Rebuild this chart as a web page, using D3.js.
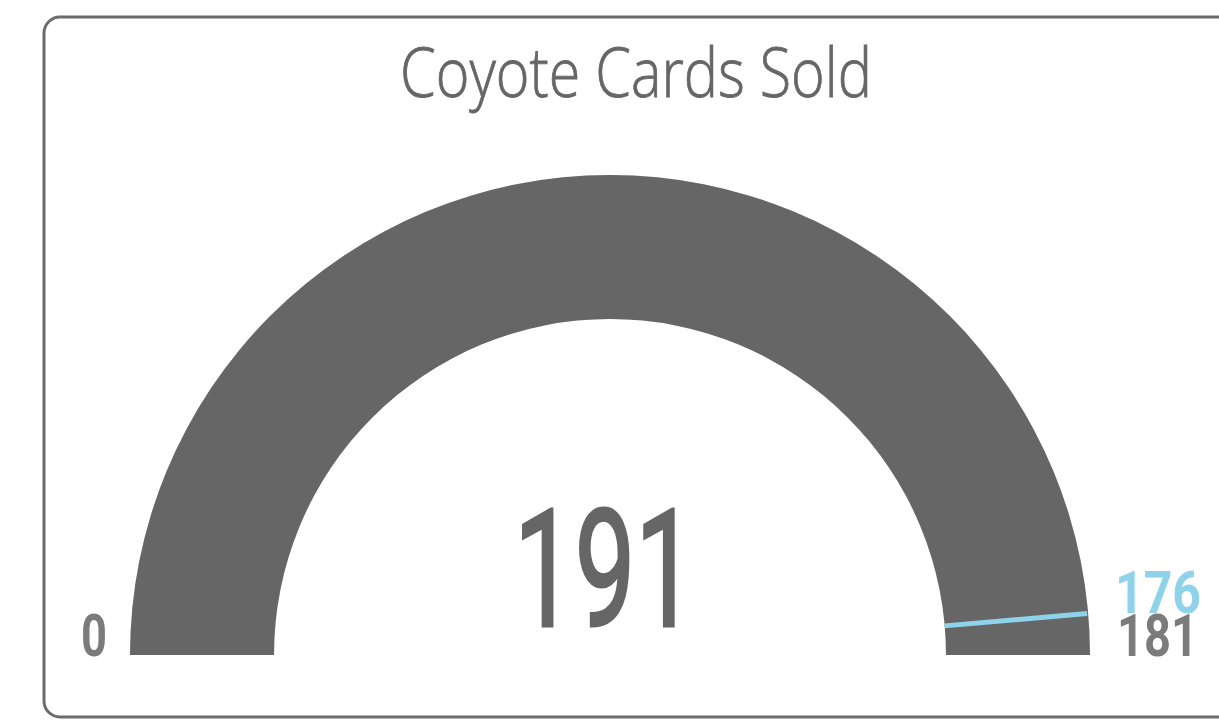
<!DOCTYPE html>
<html><head><meta charset="utf-8">
<script src="https://cdn.jsdelivr.net/npm/d3@7"></script>
<style>html,body{margin:0;padding:0;background:#fff;overflow:hidden}</style>
</head><body>
<svg id="c" width="1219" height="721"></svg>
<script>
const title = "Coyote Cards Sold";
const minValue = 0;
const maxValue = 181;
const value = 191;
const target = 176;

const svg = d3.select("#c");
svg.append("rect").attr("x", 44).attr("y", 17).attr("width", 1220).attr("height", 700)
  .attr("rx", 16).attr("ry", 16).attr("fill", "#fff").attr("stroke", "#6b6b6b").attr("stroke-width", 3);

svg.append("text").attr("x", 636).attr("y", 97).attr("text-anchor", "middle")
  .attr("font-family", "'Open Sans', sans-serif").attr("font-weight", 300).attr("font-size", 68)
  .attr("fill", "#666").attr("stroke", "#666").attr("stroke-width", 0.8)
  .attr("textLength", 472).attr("lengthAdjust", "spacingAndGlyphs").text(title);

const cx = 610, cy = 655, rOuter = 480, rInner = 336;
const angle = d3.scaleLinear().domain([minValue, maxValue]).range([-Math.PI/2, Math.PI/2]).clamp(true);
const g = svg.append("g").attr("transform", `translate(${cx},${cy})`);
const arc = d3.arc().innerRadius(rInner).outerRadius(rOuter);
g.append("path").attr("d", arc({startAngle: angle(minValue), endAngle: angle(maxValue)})).attr("fill", "#e8e8e8");
g.append("path").attr("d", arc({startAngle: angle(minValue), endAngle: angle(value)})).attr("fill", "#666666");

const ta = angle(target);
g.append("line")
  .attr("x1", rInner * Math.sin(ta)).attr("y1", -rInner * Math.cos(ta))
  .attr("x2", (rOuter - 1) * Math.sin(ta)).attr("y2", -(rOuter - 1) * Math.cos(ta))
  .attr("stroke", "#8ed3ea").attr("stroke-width", 5);

const numFont = "Roboto, 'DejaVu Sans', sans-serif";
svg.append("text").attr("x", 605).attr("y", 626).attr("text-anchor", "middle")
  .attr("font-family", numFont).attr("font-size", 164).attr("fill", "#666")
  .attr("stroke", "#666").attr("stroke-width", 3).attr("stroke-linejoin", "miter")
  .attr("textLength", 182).attr("lengthAdjust", "spacingAndGlyphs").text(d3.format("d")(value));

svg.append("text").attr("x", 107).attr("y", 656).attr("text-anchor", "end")
  .attr("font-family", numFont).attr("font-weight", 700).attr("font-size", 60).attr("fill", "#7b7b7b")
  .attr("textLength", 26).attr("lengthAdjust", "spacingAndGlyphs").text(minValue);
svg.append("text").attr("x", 1117).attr("y", 656)
  .attr("font-family", numFont).attr("font-weight", 700).attr("font-size", 60).attr("fill", "#7b7b7b")
  .attr("textLength", 81).attr("lengthAdjust", "spacingAndGlyphs").text(maxValue);
svg.append("text").attr("x", 1115).attr("y", 613)
  .attr("font-family", numFont).attr("font-weight", 700).attr("font-size", 60).attr("fill", "#8ed3ea")
  .attr("textLength", 86).attr("lengthAdjust", "spacingAndGlyphs").text(target);
</script>
</body></html>
